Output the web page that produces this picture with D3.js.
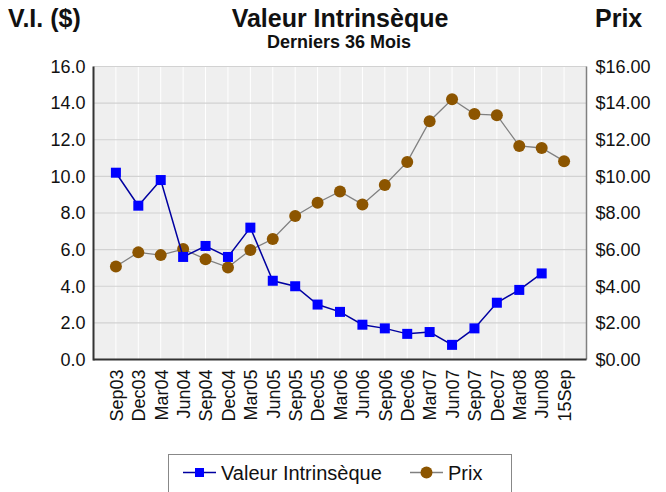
<!DOCTYPE html>
<html>
<head>
<meta charset="utf-8">
<script src="https://cdn.jsdelivr.net/npm/d3@7"></script>
<style>
	body { margin: 0; background: #fff; }
	svg { display: block; font-family: "Liberation Sans", Arial, sans-serif; }
</style>
</head>
<body>
<svg id="chart" width="666" height="492"></svg>
<script>
// chart data
const categories = ['Sep03', 'Dec03', 'Mar04', 'Jun04', 'Sep04', 'Dec04', 'Mar05', 'Jun05', 'Sep05', 'Dec05',
	'Mar06', 'Jun06', 'Sep06', 'Dec06', 'Mar07', 'Jun07', 'Sep07', 'Dec07', 'Mar08', 'Jun08', '15Sep'];
const valeurIntrinseque = [10.2, 8.4, 9.8, 5.6, 6.2, 5.6, 7.2, 4.3, 4.0, 3.0,
	2.6, 1.9, 1.7, 1.4, 1.5, 0.8, 1.7, 3.1, 3.8, 4.7, null];
const prix = [5.08, 5.85, 5.7, 6.03, 5.48, 5.03, 5.98, 6.58, 7.84, 8.56,
	9.18, 8.47, 9.53, 10.79, 13.01, 14.21, 13.4, 13.34, 11.66, 11.55, 10.83];
const leftTicks = [0, 2, 4, 6, 8, 10, 12, 14, 16];
const rightTicks = [0, 2, 4, 6, 8, 10, 12, 14, 16];

const svg = d3.select('#chart');
const m = { left: 93.5, right: 586.5, top: 66.5, bottom: 359.5 };
const font = '"Liberation Sans", Arial, sans-serif';

const x = d3.scalePoint().domain(categories).range([m.left, m.right]).padding(1);
const yL = d3.scaleLinear().domain([0, 16]).range([m.bottom, m.top]);
const yR = d3.scaleLinear().domain([0, 16]).range([m.bottom, m.top]);

// plot background
svg.append('rect')
	.attr('x', m.left).attr('y', m.top)
	.attr('width', m.right - m.left).attr('height', m.bottom - m.top)
	.attr('fill', '#efefef');

// vertical grid
svg.append('g')
	.selectAll('line')
	.data(categories)
	.join('line')
	.attr('x1', (d) => x(d)).attr('x2', (d) => x(d))
	.attr('y1', m.top).attr('y2', m.bottom)
	.attr('stroke', '#ffffff').attr('stroke-width', 1);

// horizontal grid
svg.append('g')
	.selectAll('line')
	.data(leftTicks.slice(1))
	.join('line')
	.attr('x1', m.left).attr('x2', m.right)
	.attr('y1', (d) => yL(d)).attr('y2', (d) => yL(d))
	.attr('stroke', '#d2d2d2').attr('stroke-width', 1.2);

// axes
const axL = svg.append('g')
	.attr('transform', `translate(${m.left},0)`)
	.call(d3.axisLeft(yL).tickValues(leftTicks).tickFormat(d3.format('.1f')).tickSize(0).tickPadding(8));
const axR = svg.append('g')
	.attr('transform', `translate(${m.right},0)`)
	.call(d3.axisRight(yR).tickValues(rightTicks).tickFormat((d) => '$' + d3.format('.2f')(d)).tickSize(0).tickPadding(9));
const axB = svg.append('g')
	.attr('transform', `translate(0,${m.bottom})`)
	.call(d3.axisBottom(x).tickSize(0).tickPadding(8));

[axL, axR, axB].forEach((a) => {
	a.select('.domain').remove();
	a.selectAll('text').attr('font-size', 18).attr('fill', '#111').attr('font-family', font);
});
axB.selectAll('text')
	.attr('transform', 'rotate(-90)')
	.attr('text-anchor', 'end')
	.attr('dy', '0.35em')
	.attr('x', -10)
	.attr('y', 0);

// frame lines
svg.append('line')
	.attr('x1', m.right).attr('x2', m.right).attr('y1', m.top).attr('y2', m.bottom)
	.attr('stroke', '#808080').attr('stroke-width', 1.5);
svg.append('line')
	.attr('x1', m.left).attr('x2', m.left).attr('y1', m.top).attr('y2', m.bottom + 1)
	.attr('stroke', '#333').attr('stroke-width', 2);
svg.append('line')
	.attr('x1', m.left).attr('x2', m.right).attr('y1', m.bottom).attr('y2', m.bottom)
	.attr('stroke', '#333').attr('stroke-width', 2);

// price series
const prixPts = categories.map((c, i) => ({ c, v: prix[i] }));
svg.append('path')
	.datum(prixPts)
	.attr('fill', 'none')
	.attr('stroke', '#808080')
	.attr('stroke-width', 1.3)
	.attr('d', d3.line().x((d) => x(d.c)).y((d) => yR(d.v)));
svg.append('g')
	.selectAll('circle')
	.data(prixPts)
	.join('circle')
	.attr('cx', (d) => x(d.c)).attr('cy', (d) => yR(d.v))
	.attr('r', 6)
	.attr('fill', '#8c5500');

// VI series
const viPts = categories.map((c, i) => ({ c, v: valeurIntrinseque[i] })).filter((d) => d.v != null);
svg.append('path')
	.datum(viPts)
	.attr('fill', 'none')
	.attr('stroke', '#0000a0')
	.attr('stroke-width', 1.5)
	.attr('d', d3.line().x((d) => x(d.c)).y((d) => yL(d.v)));
svg.append('g')
	.selectAll('rect')
	.data(viPts)
	.join('rect')
	.attr('x', (d) => x(d.c) - 5).attr('y', (d) => yL(d.v) - 5)
	.attr('width', 10).attr('height', 10)
	.attr('fill', '#0000ff');

// titles
svg.append('text').attr('x', 340).attr('y', 27).attr('text-anchor', 'middle')
	.attr('font-size', 25).attr('font-weight', 'bold').attr('fill', '#111').text('Valeur Intrinsèque');
svg.append('text').attr('x', 339).attr('y', 48).attr('text-anchor', 'middle')
	.attr('font-size', 18).attr('font-weight', 'bold').attr('fill', '#111').text('Derniers 36 Mois');
svg.append('text').attr('x', 8).attr('y', 27)
	.attr('font-size', 25).attr('font-weight', 'bold').attr('fill', '#111').text('V.I. ($)');
svg.append('text').attr('x', 595).attr('y', 27)
	.attr('font-size', 25).attr('font-weight', 'bold').attr('fill', '#111').text('Prix');

// legend
const lg = svg.append('g');
lg.append('rect').attr('x', 168.5).attr('y', 454.5).attr('width', 343).attr('height', 45)
	.attr('fill', '#fff').attr('stroke', '#888').attr('stroke-width', 1);
const legendItems = [
	{ label: 'Valeur Intrinsèque', x0: 183, line: '#0000a0', mark: 'rect', color: '#0000ff' },
	{ label: 'Prix', x0: 410, line: '#808080', mark: 'circle', color: '#8c5500' }
];
legendItems.forEach((it) => {
	const ly = 472.5;
	lg.append('line').attr('x1', it.x0).attr('x2', it.x0 + 33).attr('y1', ly).attr('y2', ly)
		.attr('stroke', it.line).attr('stroke-width', 1.3);
	if (it.mark === 'rect') {
		lg.append('rect').attr('x', it.x0 + 12).attr('y', ly - 4.5).attr('width', 9).attr('height', 9).attr('fill', it.color);
	} else {
		lg.append('circle').attr('cx', it.x0 + 16.5).attr('cy', ly).attr('r', 6).attr('fill', it.color);
	}
	lg.append('text').attr('x', it.x0 + 38).attr('y', ly + 7.5)
		.attr('font-size', 20).attr('fill', '#111').text(it.label);
});
</script>
</body>
</html>
